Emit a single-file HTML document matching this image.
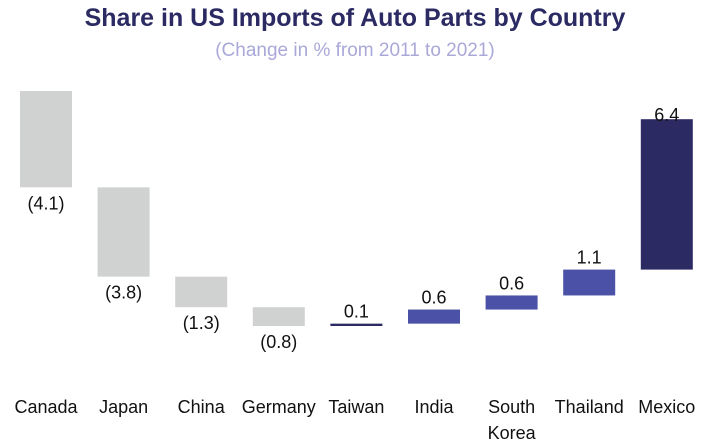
<!DOCTYPE html>
<html><head><meta charset="utf-8"><style>
body{margin:0;width:710px;height:448px;background:#fff;overflow:hidden;font-family:"Liberation Sans",sans-serif}
svg{display:block}
</style></head><body>
<svg id="chart" width="710" height="448">
<text x="355" y="26" text-anchor="middle" font-size="25" font-weight="bold" fill="#2b2a63">Share in US Imports of Auto Parts by Country</text>
<text x="355" y="56" text-anchor="middle" font-size="19" fill="#aaa8d8">(Change in % from 2011 to 2021)</text>
<g id="bars"></g>
</svg>
<script>
const categories=["Canada","Japan","China","Germany","Taiwan","India","South Korea","Thailand","Mexico"];
const values=[-4.1,-3.8,-1.3,-0.8,0.1,0.6,0.6,1.1,6.4];
const labels=["(4.1)","(3.8)","(1.3)","(0.8)","0.1","0.6","0.6","1.1","6.4"];
const top0=91, scale=23.5, x0=20, step=77.6, bw=52;
const y=v=>top0-v*scale;
const xp=i=>x0+i*step;
const g=document.getElementById('bars');
const ns='http://www.w3.org/2000/svg';
let cum=0;
values.forEach((v,i)=>{
  const a=cum, b=cum+v; cum=b;
  const yt=Math.min(y(a),y(b)), h=Math.max(Math.abs(y(a)-y(b)),2);
  const r=document.createElementNS(ns,'rect');
  r.setAttribute('x',xp(i));r.setAttribute('y',yt);r.setAttribute('width',bw);r.setAttribute('height',h);
  let col=v<0?'#d0d2d1':(i==values.length-1||Math.abs(v)<0.2?'#2b2a63':'#4a51a6');
  r.setAttribute('fill',col);
  
  
  g.appendChild(r);
  const t=document.createElementNS(ns,'text');
  t.setAttribute('x',xp(i)+bw/2);
  t.setAttribute('y',v<0?yt+h+22:(i==values.length-1?yt+2:yt-6));
  t.setAttribute('text-anchor','middle');t.setAttribute('font-size','18');t.setAttribute('fill','#111');
  t.textContent=labels[i];
  
  
  g.appendChild(t);
  const c=document.createElementNS(ns,'text');
  c.setAttribute('x',xp(i)+bw/2);c.setAttribute('y',413);
  c.setAttribute('text-anchor','middle');c.setAttribute('font-size','18');c.setAttribute('fill','#111');
  const parts=categories[i].split(' ');
  parts.forEach((p,k)=>{const s=document.createElementNS(ns,'tspan');s.setAttribute('x',xp(i)+bw/2);if(k>0)s.setAttribute('dy','26');s.textContent=p;c.appendChild(s);});
  
  
  g.appendChild(c);
});
</script>
</body></html>
